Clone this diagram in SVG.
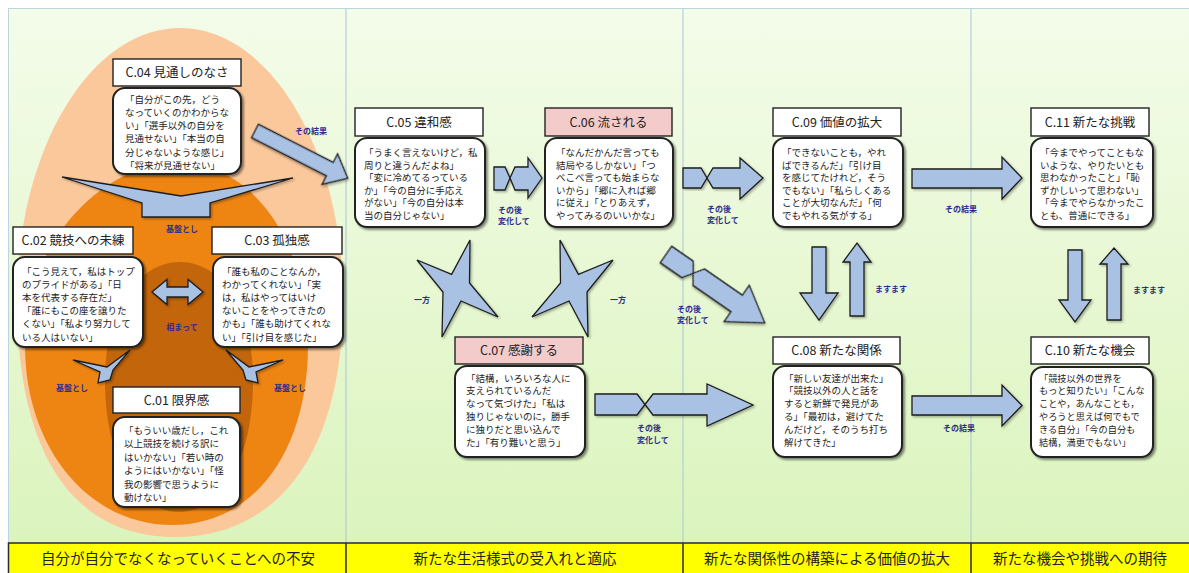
<svg xmlns="http://www.w3.org/2000/svg" width="1189" height="573" viewBox="0 0 1189 573">
<defs>
<linearGradient id="bg" x1="0" y1="0" x2="0" y2="1">
<stop offset="0" stop-color="#f4fcea"/>
<stop offset="1" stop-color="#dbf4bd"/>
</linearGradient>
<filter id="sh" x="-10%" y="-10%" width="125%" height="125%">
<feDropShadow dx="2" dy="2" stdDeviation="1.2" flood-color="#000" flood-opacity="0.45"/>
</filter>
<filter id="ash" x="-10%" y="-10%" width="125%" height="125%">
<feDropShadow dx="1.5" dy="1.5" stdDeviation="1" flood-color="#000" flood-opacity="0.3"/>
</filter>
</defs>
<style>
.title{fill:#fff;stroke:#222;stroke-width:1.4}
.pink{fill:#f3cbcb}
.body{fill:#fff;stroke:#222;stroke-width:2;filter:url(#sh)}
.tt{font-family:"Noto Sans CJK JP","Noto Sans",sans-serif;font-size:12.5px;fill:#222;text-anchor:middle}
.bt{font-family:"Noto Sans CJK JP","Noto Sans",sans-serif;font-size:9.5px;fill:#222}
.arr{fill:#a9c1e2;stroke:#1e1e1e;stroke-width:1.3;stroke-linejoin:miter;filter:url(#ash)}
.lb{font-family:"Noto Sans CJK JP","Noto Sans",sans-serif;font-size:8px;font-weight:bold;fill:#2e2e8c}
.band{font-family:"Noto Sans CJK JP","Noto Sans",sans-serif;font-size:14.5px;fill:#222;text-anchor:middle}
.div{stroke:#a9c6d6;stroke-width:1}
</style>

<rect x="0" y="0" width="1189" height="573" fill="#fff"/>
<rect x="8.5" y="8.5" width="1190" height="536" fill="url(#bg)" stroke="#bcd4e0" stroke-width="1"/>
<line class="div" x1="346" y1="9" x2="346" y2="543"/>
<line class="div" x1="683" y1="9" x2="683" y2="543"/>
<line class="div" x1="971" y1="9" x2="971" y2="543"/>

<g id="egg">
<path d="M180,28 C270,28 343,150 343,300 C343,450 280,537 175,537 C70,537 17,450 17,300 C17,150 90,28 180,28 Z" fill="#fbc89c"/>
<path d="M178,163 C255,163 308,245 308,345 C308,450 255,525 172,525 C90,525 25,450 25,345 C25,245 100,163 178,163 Z" fill="#ee8513"/>
<path d="M180,262 C222,262 253,310 253,380 C253,460 222,512 179,512 C136,512 105,460 105,380 C105,310 138,262 180,262 Z" fill="#c3650b"/>
</g>

<g id="connectors">
<!-- C.04 funnel -->
<polygon class="arr" points="62,177 142,203 142,217 210,217 210,203 293,178 181,196"/>
<!-- lower left funnel -->
<polygon class="arr" points="73,360 107,367 130,350 113,370 110,380 98,383 100,372"/>
<!-- lower right funnel -->
<polygon class="arr" points="283,360 249,367 226,350 243,370 246,380 258,383 256,372"/>
<!-- double arrow -->
<polygon class="arr" points="152,292 167,279.5 167,287 188,287 188,279.5 203,292 188,304.5 188,297 167,297 167,304.5"/>
<!-- C.04 -> C.05 -->
<polygon class="arr" transform="translate(255,131) rotate(27)" points="0,-7.5 84,-7.5 84,-17 104,0 84,17 84,7.5 0,7.5"/>
<!-- C.05 -> C.06 -->
<polygon class="arr" points="494,167 505,167 510,178 505,190 494,190"/>
<polygon class="arr" points="510,178 515,167 528,167 528,158 542,178 528,198 528,190 515,190"/>
<!-- C.06 -> C.09 -->
<polygon class="arr" points="683,168 701,168 707,178 701,188 683,188"/>
<polygon class="arr" points="707,178 713,168 740,168 740,158 763,178 740,199 740,188 713,188"/>
<!-- C.06 -> C.08 diagonal -->
<g transform="translate(666,254.5) rotate(34.7)">
<polygon class="arr" points="0,-10 26,-10 33,0 26,10 0,10"/>
<polygon class="arr" points="33,0 40,-10 86,-10 86,-22 120,0 86,22 86,10 40,10"/>
</g>
<!-- C.07 -> C.08 -->
<polygon class="arr" points="595,394 637,394 645,404.5 637,415 595,415"/>
<polygon class="arr" points="645,404.5 653,394 707,394 707,384 753,405 707,426 707,415 653,415"/>
<!-- stars -->
<polygon class="arr" points="470,240 469.5,283 498,317 461,301 442,337 443,292 417,260 451.6,274.4"/>
<polygon class="arr" points="560,240 560.5,283 532,317 569,301 588,337 587,292 613,260 578.4,274.4"/>
<!-- C.09 <-> C.08 -->
<polygon class="arr" points="812,247 826,247 826,293 838,293 819,320 800,293 812,293"/>
<polygon class="arr" points="850,316 864,316 864,262 871,262 857,243 843,262 850,262"/>
<!-- C.09 -> C.11 -->
<polygon class="arr" points="912,169 1002,169 1002,157 1022,178 1002,199 1002,188 912,188"/>
<!-- C.08 -> C.10 -->
<polygon class="arr" points="912,396 1002,396 1002,385 1022,405.5 1002,426 1002,415 912,415"/>
<!-- C.11 <-> C.10 -->
<polygon class="arr" points="1068,250 1082,250 1082,300 1091,300 1075,322 1059,300 1068,300"/>
<polygon class="arr" points="1107,320 1121,320 1121,264 1128,264 1114,248 1100,264 1107,264"/>

<!-- labels -->
<text class="lb" x="295" y="134">その結果</text>
<text class="lb" x="182" y="232" text-anchor="middle">基盤とし</text>
<text class="lb" x="182" y="330" text-anchor="middle">相まって</text>
<text class="lb" x="72" y="391" text-anchor="middle">基盤とし</text>
<text class="lb" x="290" y="391" text-anchor="middle">基盤とし</text>
<text class="lb" x="498" y="213">その後</text>
<text class="lb" x="498" y="223.5">変化して</text>
<text class="lb" x="422" y="303" text-anchor="middle">一方</text>
<text class="lb" x="618" y="303" text-anchor="middle">一方</text>
<text class="lb" x="707" y="212">その後</text>
<text class="lb" x="707" y="223">変化して</text>
<text class="lb" x="677" y="312">その後</text>
<text class="lb" x="677" y="323">変化して</text>
<text class="lb" x="637" y="431">その後</text>
<text class="lb" x="637" y="443">変化して</text>
<text class="lb" x="875" y="292">ますます</text>
<text class="lb" x="945" y="212">その結果</text>
<text class="lb" x="943" y="431">その結果</text>
<text class="lb" x="1133" y="293">ますます</text>
</g>

<g id="c04">
<rect class="title" x="113" y="59" width="128" height="27"/>
<text class="tt" x="177" y="77">C.04 見通しのなさ</text>
<rect class="body" x="113" y="88" width="128" height="86" rx="12"/>
<text class="bt"><tspan x="125" y="102.5">「自分がこの先，どう</tspan><tspan x="125" y="115.8">なっていくのかわからな</tspan><tspan x="125" y="129.1">い」「選手以外の自分を</tspan><tspan x="125" y="142.4">見通せない」「本当の自</tspan><tspan x="125" y="155.7">分じゃないような感じ」</tspan><tspan x="125" y="169">「将来が見通せない」</tspan></text>
</g>

<g id="c02">
<rect class="title" x="13" y="227" width="120" height="27"/>
<text class="tt" x="73" y="245">C.02 競技への未練</text>
<rect class="body" x="13" y="257" width="130" height="90" rx="12"/>
<text class="bt"><tspan x="22" y="274.5">「こう見えて，私はトップ</tspan><tspan x="22" y="287.7">のプライドがある」「日</tspan><tspan x="22" y="300.9">本を代表する存在だ」</tspan><tspan x="22" y="314.1">「誰にもこの座を譲りた</tspan><tspan x="22" y="327.3">くない」「私より努力して</tspan><tspan x="22" y="340.5">いる人はいない」</tspan></text>
</g>

<g id="c03">
<rect class="title" x="212" y="227" width="130" height="27"/>
<text class="tt" x="277" y="245">C.03 孤独感</text>
<rect class="body" x="213" y="257" width="130" height="90" rx="12"/>
<text class="bt"><tspan x="222" y="274.5">「誰も私のことなんか，</tspan><tspan x="222" y="287.7">わかってくれない」「実</tspan><tspan x="222" y="300.9">は，私はやってはいけ</tspan><tspan x="222" y="314.1">ないことをやってきたの</tspan><tspan x="222" y="327.3">かも」「誰も助けてくれな</tspan><tspan x="222" y="340.5">い」「引け目を感じた」</tspan></text>
</g>

<g id="c01">
<rect class="title" x="113" y="387" width="127" height="26"/>
<text class="tt" x="176.5" y="404.5">C.01 限界感</text>
<rect class="body" x="113" y="417" width="127" height="90" rx="12"/>
<text class="bt"><tspan x="124" y="434">「もういい歳だし，これ</tspan><tspan x="124" y="447.4">以上競技を続ける訳に</tspan><tspan x="124" y="460.8">はいかない」「若い時の</tspan><tspan x="124" y="474.2">ようにはいかない」「怪</tspan><tspan x="124" y="487.6">我の影響で思うように</tspan><tspan x="124" y="501">動けない」</tspan></text>
</g>

<g id="c05">
<rect class="title" x="355" y="108" width="128" height="28"/>
<text class="tt" x="419" y="126.5">C.05 違和感</text>
<rect class="body" x="355" y="138" width="130" height="89" rx="12"/>
<text class="bt"><tspan x="364" y="156">「うまく言えないけど，私</tspan><tspan x="364" y="168.5">周りと違うんだよね」</tspan><tspan x="364" y="181">「変に冷めてるっている</tspan><tspan x="364" y="193.5">か」「今の自分に手応え</tspan><tspan x="364" y="206">がない」「今の自分は本</tspan><tspan x="364" y="218.5">当の自分じゃない」</tspan></text>
</g>

<g id="c06">
<rect class="title pink" x="545" y="108" width="127" height="28"/>
<text class="tt" x="608.5" y="126.5">C.06 流される</text>
<rect class="body pink" x="545" y="138" width="128" height="89" rx="12"/>
<text class="bt"><tspan x="556" y="156">「なんだかんだ言っても</tspan><tspan x="556" y="168.5">結局やるしかない」「つ</tspan><tspan x="556" y="181">べこべ言っても始まらな</tspan><tspan x="556" y="193.5">いから」「郷に入れば郷</tspan><tspan x="556" y="206">に従え」「とりあえず，</tspan><tspan x="556" y="218.5">やってみるのいいかな」</tspan></text>
</g>

<g id="c07">
<rect class="title pink" x="455" y="337" width="128" height="27"/>
<text class="tt" x="519" y="355">C.07 感謝する</text>
<rect class="body pink" x="455" y="366" width="130" height="91" rx="12"/>
<text class="bt"><tspan x="466" y="381.5">「結構，いろいろな人に</tspan><tspan x="466" y="394.3">支えられているんだ</tspan><tspan x="466" y="407.1">なって気づけた」「私は</tspan><tspan x="466" y="419.9">独りじゃないのに，勝手</tspan><tspan x="466" y="432.7">に独りだと思い込んで</tspan><tspan x="466" y="445.5">た」「有り難いと思う」</tspan></text>
</g>

<g id="c09">
<rect class="title" x="773" y="108" width="128" height="28"/>
<text class="tt" x="837" y="126.5">C.09 価値の拡大</text>
<rect class="body" x="773" y="138" width="130" height="89" rx="12"/>
<text class="bt"><tspan x="782" y="156">「できないことも，やれ</tspan><tspan x="782" y="168.5">ばできるんだ」「引け目</tspan><tspan x="782" y="181">を感じてたけれど，そう</tspan><tspan x="782" y="193.5">でもない」「私らしくある</tspan><tspan x="782" y="206">ことが大切なんだ」「何</tspan><tspan x="782" y="218.5">でもやれる気がする」</tspan></text>
</g>

<g id="c08">
<rect class="title" x="773" y="337" width="127" height="27"/>
<text class="tt" x="836.5" y="355">C.08 新たな関係</text>
<rect class="body" x="773" y="366" width="129" height="91" rx="12"/>
<text class="bt"><tspan x="784" y="381.5">「新しい友達が出来た」</tspan><tspan x="784" y="394.3">「競技以外の人と話を</tspan><tspan x="784" y="407.1">すると新鮮で発見があ</tspan><tspan x="784" y="419.9">る」「最初は，避けてた</tspan><tspan x="784" y="432.7">んだけど，そのうち打ち</tspan><tspan x="784" y="445.5">解けてきた」</tspan></text>
</g>

<g id="c11">
<rect class="title" x="1031" y="108" width="118" height="28"/>
<text class="tt" x="1090" y="126.5">C.11 新たな挑戦</text>
<rect class="body" x="1031" y="138" width="122" height="89" rx="12"/>
<text class="bt"><tspan x="1040" y="156">「今までやってこともな</tspan><tspan x="1040" y="168.5">いような、やりたいとも</tspan><tspan x="1040" y="181">思わなかったこと」「恥</tspan><tspan x="1040" y="193.5">ずかしいって思わない」</tspan><tspan x="1040" y="206">「今までやらなかったこ</tspan><tspan x="1040" y="218.5">とも、普通にできる」</tspan></text>
</g>

<g id="c10">
<rect class="title" x="1031" y="337" width="118" height="27"/>
<text class="tt" x="1090" y="355">C.10 新たな機会</text>
<rect class="body" x="1031" y="367" width="122" height="90" rx="12"/>
<text class="bt" style="font-size:9.2px"><tspan x="1039" y="381.5">「競技以外の世界を</tspan><tspan x="1039" y="394.3">もっと知りたい」「こんな</tspan><tspan x="1039" y="407.1">ことや，あんなことも，</tspan><tspan x="1039" y="419.9">やろうと思えば何でもで</tspan><tspan x="1039" y="432.7">きる自分」「今の自分も</tspan><tspan x="1039" y="445.5">結構，満更でもない」</tspan></text>
</g>

<g id="band">
<rect x="8.5" y="543" width="1190" height="40" fill="#ffff00" stroke="#2a2a2a" stroke-width="1.5"/>
<line x1="346" y1="543" x2="346" y2="573" stroke="#2a2a2a" stroke-width="1.5"/>
<line x1="683" y1="543" x2="683" y2="573" stroke="#2a2a2a" stroke-width="1.5"/>
<line x1="971" y1="543" x2="971" y2="573" stroke="#2a2a2a" stroke-width="1.5"/>
<text class="band" x="178" y="564">自分が自分でなくなっていくことへの不安</text>
<text class="band" x="515" y="564">新たな生活様式の受入れと適応</text>
<text class="band" x="827" y="564">新たな関係性の構築による価値の拡大</text>
<text class="band" x="1080" y="564">新たな機会や挑戦への期待</text>
</g>
</svg>
